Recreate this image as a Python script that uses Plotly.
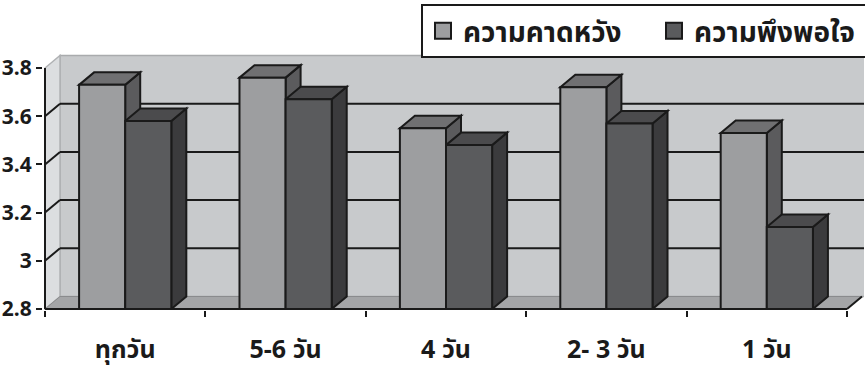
import plotly.graph_objects as go

# ---- data ----
categories = ["ทุกวัน", "5-6 วัน", "4 วัน", "2- 3 วัน", "1 วัน"]
expectation = [3.73, 3.76, 3.55, 3.72, 3.53]
satisfaction = [3.58, 3.67, 3.48, 3.57, 3.14]
series_names = ["ความคาดหวัง", "ความพึงพอใจ"]
y_ticks = [2.8, 3.0, 3.2, 3.4, 3.6, 3.8]
y_ticktext = ["2.8", "3", "3.2", "3.4", "3.6", "3.8"]

# ---- style / geometry (pixels) ----
W, H = 865, 369
PL, PR, PT, PB = 43, 864, 54, 310       # plot area box in px
FX0, FX1 = 45, 847                      # front plane x extent (px)
FYB, FYT = 309, 68                      # front plane y for 2.8 / 3.8 (px)
DX, DY = 15, 12.5                       # 3D depth offset (px)
YMIN, YMAX = 2.8, 3.8
n = len(categories)

kx = n / (FX1 - FX0)                    # category units per px
ky = (YMAX - YMIN) / (FYB - FYT)        # value units per px
xr = [-0.5 - (FX0 - PL) * kx, n - 0.5 + (PR - FX1) * kx]
yr = [YMIN - (PB - FYB) * ky, YMAX + (FYT - PT) * ky]
dxu, dyu = DX * kx, DY * ky

bargap = 0.425
bw = (1 - bargap) / 2

C_LIGHT, C_LIGHT_TOP, C_LIGHT_SIDE = "#9d9ea0", "#707072", "#5b5b5d"
C_DARK, C_DARK_TOP, C_DARK_SIDE = "#5a5b5d", "#4b4b4d", "#3b3b3d"
C_BACK, C_LEFT, C_FLOOR = "#c8cacc", "#dcdee0", "#a4a5a7"
INK = "#1a1a1a"
FONT = "Tahoma, 'Noto Sans Thai', 'Leelawadee UI', 'Noto Sans', sans-serif"


def poly(pts):
    return "M " + " L ".join(f"{x},{y}" for x, y in pts) + " Z"


shapes = []
x0, x1 = -0.5, n - 0.5
# back wall
shapes.append(dict(type="rect", xref="x", yref="y", x0=x0 + dxu, x1=xr[1] + 1, y0=YMIN + dyu, y1=YMAX + dyu,
                   fillcolor=C_BACK, line=dict(color="#a9abad", width=1.5), layer="below"))
# left wall
shapes.append(dict(type="path", xref="x", yref="y",
                   path=poly([(x0, YMIN), (x0 + dxu, YMIN + dyu), (x0 + dxu, YMAX + dyu), (x0, YMAX)]),
                   fillcolor=C_LEFT, line=dict(color="#b0b2b4", width=1.5), layer="below"))
# floor
shapes.append(dict(type="path", xref="x", yref="y",
                   path=poly([(x0, YMIN), (x1, YMIN), (x1 + dxu, YMIN + dyu), (x0 + dxu, YMIN + dyu)]),
                   fillcolor=C_FLOOR, line=dict(color="#8a8b8d", width=1), layer="below"))
# gridlines
for v in y_ticks[1:-1]:
    shapes.append(dict(type="line", xref="x", yref="y", x0=x0 + dxu, x1=xr[1] + 1, y0=v + dyu, y1=v + dyu,
                       line=dict(color=INK, width=2), layer="below"))
for v in y_ticks[1:-1]:
    shapes.append(dict(type="line", xref="x", yref="y", x0=x0, x1=x0 + dxu, y0=v, y1=v + dyu,
                       line=dict(color=INK, width=2), layer="below"))
# floor right edge
shapes.append(dict(type="line", xref="x", yref="y", x0=x1, x1=x1 + dxu, y0=YMIN, y1=YMIN + dyu,
                   line=dict(color=INK, width=2), layer="below"))

# 3D tops and sides of bars
for i in range(n):
    for vals, off, ctop, cside in ((expectation, -bw, C_LIGHT_TOP, C_LIGHT_SIDE),
                                   (satisfaction, 0.0, C_DARK_TOP, C_DARK_SIDE)):
        v = vals[i]
        l, r = i + off, i + off + bw
        shapes.append(dict(type="path", xref="x", yref="y",
                           path=poly([(r, YMIN), (r + dxu, YMIN + dyu), (r + dxu, v + dyu), (r, v)]),
                           fillcolor=cside, line=dict(color=INK, width=2), layer="below"))
        shapes.append(dict(type="path", xref="x", yref="y",
                           path=poly([(l, v), (l + dxu, v + dyu), (r + dxu, v + dyu), (r, v)]),
                           fillcolor=ctop, line=dict(color=INK, width=2), layer="below"))

# front axes lines
shapes.append(dict(type="line", xref="x", yref="y", x0=x0, x1=x1, y0=YMIN, y1=YMIN,
                   line=dict(color=INK, width=2), layer="above"))
shapes.append(dict(type="line", xref="x", yref="y", x0=x0, x1=x0, y0=YMIN, y1=YMAX,
                   line=dict(color=INK, width=2), layer="above"))

fig = go.Figure()
fig.add_trace(go.Bar(x=categories, y=expectation, name=series_names[0], showlegend=False,
                     marker=dict(color=C_LIGHT, line=dict(color=INK, width=2))))
fig.add_trace(go.Bar(x=categories, y=satisfaction, name=series_names[1], showlegend=False,
                     marker=dict(color=C_DARK, line=dict(color=INK, width=2))))
# legend entries with larger square swatches
for name, col in zip(series_names, (C_LIGHT, C_DARK)):
    fig.add_trace(go.Scatter(x=[None], y=[None], mode="markers", name=name,
                             marker=dict(symbol="square", size=16, color=col, line=dict(color=INK, width=2))))

fig.update_layout(
    width=W, height=H,
    margin=dict(l=PL, r=W - PR, t=PT, b=H - PB, pad=0, autoexpand=False),
    paper_bgcolor="white", plot_bgcolor="white",
    barmode="group", bargap=bargap, bargroupgap=0,
    shapes=shapes,
    showlegend=True,
    legend=dict(orientation="h", x=(421 - PL) / (PR - PL), xanchor="left",
                y=1 + (PT - 4) / (PB - PT), yanchor="top",
                bordercolor=INK, borderwidth=2, bgcolor="white",
                font=dict(family=FONT, size=28, color=INK, weight="bold"),
                itemsizing="trace", itemwidth=30, entrywidth=186, tracegroupgap=0),
    xaxis=dict(type="category", range=xr, showgrid=False, zeroline=False, showline=False,
               tickson="boundaries", ticks="outside", ticklen=6, tickwidth=2, tickcolor=INK,
               tickfont=dict(family=FONT, size=25, color=INK, weight="bold"),
               ticklabelstandoff=22),
    yaxis=dict(range=yr, showgrid=False, zeroline=False, showline=False,
               tickvals=y_ticks, ticktext=y_ticktext, ticks="outside", ticklen=6, tickwidth=2,
               tickcolor=INK, ticklabelstandoff=0,
               tickfont=dict(family=FONT, size=21, color=INK, weight="bold")),
)

fig.write_html("out.html")
